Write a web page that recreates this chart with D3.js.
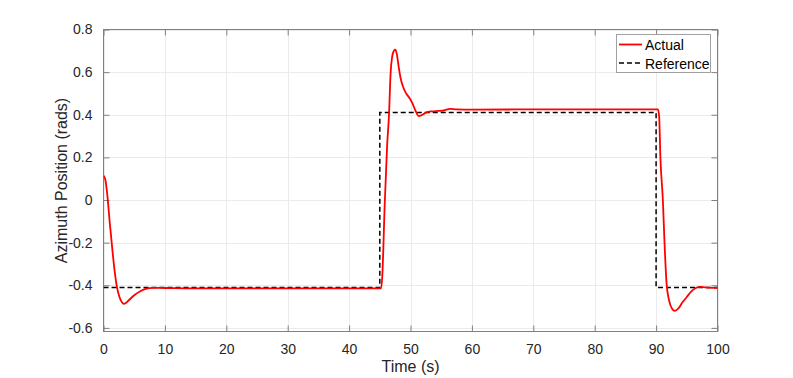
<!DOCTYPE html>
<html><head><meta charset="utf-8">
<script src="https://cdn.jsdelivr.net/npm/d3@7"></script>
<style>
html,body{margin:0;padding:0;background:#fff;}
svg{display:block;font-family:"Liberation Sans",Arial,Helvetica,sans-serif;}
</style></head>
<body><svg id="chart" width="793" height="378"></svg>
<script>
// ---- data ----
const actualTime = [0,0.3,0.6,1.0,1.4,1.8,2.2,2.6,3.0,3.3,3.7,4.2,5.0,6.0,7.0,8.0,10,15,30,45.2,
  45.4,45.8,46.2,46.5,46.75,47.0,47.3,47.55,47.8,48.1,48.4,48.8,49.3,49.8,50.3,50.8,51.35,51.8,52.5,53.5,54.5,55.4,56.5,57.5,60,70,90.3,
  90.5,90.7,91.1,91.37,91.7,92.1,92.6,93.05,93.6,94.3,95.0,95.7,96.4,97.2,98,100];
const actualValue = [0.115,0.095,0.03,-0.10,-0.22,-0.33,-0.41,-0.455,-0.48,-0.487,-0.482,-0.468,-0.447,-0.428,-0.416,-0.412,-0.413,-0.415,-0.415,-0.415,
  -0.36,-0.02,0.26,0.40,0.59,0.67,0.70,0.705,0.68,0.62,0.57,0.53,0.50,0.48,0.455,0.42,0.394,0.398,0.41,0.416,0.418,0.42,0.428,0.425,0.424,0.425,0.425,
  0.39,0.2,0.0,-0.2,-0.39,-0.47,-0.51,-0.52,-0.51,-0.48,-0.455,-0.43,-0.414,-0.408,-0.41,-0.413];
const refTime = [0,45,45,90,90,100];
const refValue = [-0.41,-0.41,0.41,0.41,-0.41,-0.41];
const xTicks = [0,10,20,30,40,50,60,70,80,90,100];
const yTicks = [-0.6,-0.4,-0.2,0,0.2,0.4,0.6,0.8];
const yTickLabels = ["-0.6","-0.4","-0.2","0","0.2","0.4","0.6","0.8"];
const seriesNames = ["Actual","Reference"];

// ---- layout ----
const L=103.5, R=717.5, T=29.5, B=331.5;
const svg = d3.select("#chart");
const x = d3.scaleLinear().domain([0,100]).range([L,R]);
const y = d3.scaleLinear().domain([-0.617,0.8]).range([B,T]);
const axisColor = "#808080", textColor = "#262626";

// grid
const g = svg.append("g");
g.selectAll(".gx").data(xTicks).join("line")
  .attr("x1",d=>Math.round(x(d))+0.5).attr("x2",d=>Math.round(x(d))+0.5)
  .attr("y1",T).attr("y2",B).attr("stroke","#ebebeb").attr("stroke-width",1);
g.selectAll(".gy").data(yTicks).join("line")
  .attr("y1",d=>Math.round(y(d))+0.5).attr("y2",d=>Math.round(y(d))+0.5)
  .attr("x1",L).attr("x2",R).attr("stroke","#ebebeb").attr("stroke-width",1);

// axes with d3 axis generators
function styleAxis(sel){
  sel.select(".domain").remove();
  sel.selectAll(".tick line").attr("stroke",axisColor);
  sel.selectAll(".tick text").attr("fill",textColor).attr("font-size","14px")
     .attr("font-family","'Liberation Sans',Arial,sans-serif");
}
svg.append("g").attr("transform",`translate(0,${B})`)
  .call(d3.axisBottom(x).tickValues(xTicks).tickFormat(d3.format("d")).tickSizeInner(-6).tickSizeOuter(0).tickPadding(13))
  .call(styleAxis);
svg.append("g").attr("transform",`translate(0,${T})`)
  .call(d3.axisTop(x).tickValues(xTicks).tickFormat("").tickSizeInner(-6).tickSizeOuter(0))
  .call(styleAxis);
svg.append("g").attr("transform",`translate(${L},0)`)
  .call(d3.axisLeft(y).tickValues(yTicks).tickFormat((d,i)=>yTickLabels[i]).tickSizeInner(-6).tickSizeOuter(0).tickPadding(11))
  .call(styleAxis);
svg.append("g").attr("transform",`translate(${R},0)`)
  .call(d3.axisRight(y).tickValues(yTicks).tickFormat("").tickSizeInner(-6).tickSizeOuter(0))
  .call(styleAxis);

// box
svg.append("rect").attr("x",L).attr("y",T).attr("width",R-L).attr("height",B-T)
  .attr("fill","none").attr("stroke",axisColor).attr("stroke-width",1);

// clip
svg.append("clipPath").attr("id","clip").append("rect")
  .attr("x",L).attr("y",T).attr("width",R-L).attr("height",B-T);

// reference line
const refData = refTime.map((t,i)=>[t,refValue[i]]);
svg.append("path").datum(refData).attr("clip-path","url(#clip)")
  .attr("d",d3.line().x(d=>x(d[0])).y(d=>y(d[1])))
  .attr("fill","none").attr("stroke","#000").attr("stroke-width",1.5).attr("stroke-dasharray","5,3");

// actual line
const actData = actualTime.map((t,i)=>[t,actualValue[i]]);
svg.append("path").datum(actData).attr("clip-path","url(#clip)")
  .attr("d",d3.line().curve(d3.curveMonotoneX).x(d=>x(d[0])).y(d=>y(d[1])))
  .attr("fill","none").attr("stroke","#ff0000").attr("stroke-width",1.8);

// axis labels
svg.append("text").attr("x",(L+R)/2).attr("y",372).attr("text-anchor","middle")
  .attr("font-size","16px").attr("fill",textColor).text("Time (s)");
svg.append("text").attr("transform",`translate(67,${(T+B)/2}) rotate(-90)`).attr("text-anchor","middle")
  .attr("font-size","16px").attr("fill",textColor).text("Azimuth Position (rads)");

// legend
const lg = svg.append("g");
lg.append("rect").attr("x",616.5).attr("y",34.5).attr("width",94).attr("height",38)
  .attr("fill","#fff").attr("stroke","#a0a0a0").attr("stroke-width",1);
const legendStyles = [{stroke:"#ff0000",dash:null,w:1.8},{stroke:"#000",dash:"5,3",w:1.5}];
seriesNames.forEach((name,i)=>{
  const yy = 44.5 + i*18.5;
  lg.append("line").attr("x1",619).attr("x2",642).attr("y1",yy).attr("y2",yy)
    .attr("stroke",legendStyles[i].stroke).attr("stroke-width",legendStyles[i].w)
    .attr("stroke-dasharray",legendStyles[i].dash);
  lg.append("text").attr("x",645).attr("y",yy+5.5).attr("font-size","14px").attr("fill","#000").text(name);
});
</script></body></html>
